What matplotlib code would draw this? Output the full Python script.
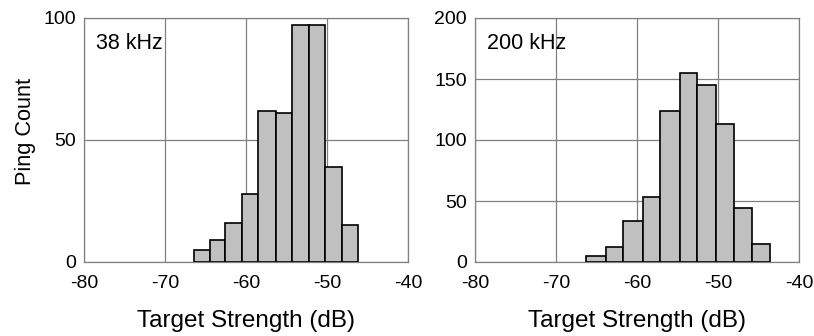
import matplotlib
matplotlib.use("Agg")
import matplotlib.pyplot as plt
import numpy as np

plt.rcParams['font.family'] = ['Liberation Sans', 'DejaVu Sans']
plt.rcParams['axes.unicode_minus'] = False

# 38 kHz histogram
edges_38 = [-66.42, -64.44, -62.59, -60.50, -58.48, -56.34, -54.36, -52.26, -50.29, -48.15, -46.21]
counts_38 = [5, 9, 16, 28, 62, 61, 97, 97, 39, 15]

# 200 kHz histogram
edges_200 = [-66.26, -63.83, -61.73, -59.26, -57.16, -54.73, -52.60, -50.30, -48.02, -45.76, -43.62]
counts_200 = [5, 12, 34, 53, 124, 155, 145, 113, 44, 15]

panels = [
    ("38 kHz", edges_38, counts_38, [0, 50, 100]),
    ("200 kHz", edges_200, counts_200, [0, 50, 100, 150, 200]),
]
x_ticks = [-80, -70, -60, -50, -40]

fig = plt.figure(figsize=(8.14, 3.36), dpi=100)
positions = [[84/814, 74/336, 324/814, 244/336], [475/814, 74/336, 324/814, 244/336]]

for i, (label, edges, counts, yticks) in enumerate(panels):
    ax = fig.add_axes(positions[i])
    e = np.array(edges)
    ax.bar(e[:-1], counts, width=np.diff(e), align='edge',
           color='#c0c0c0', edgecolor='black', linewidth=1.2, zorder=3)
    ax.set_xlim(-80, -40)
    ax.set_ylim(yticks[0], yticks[-1])
    ax.set_xticks(x_ticks)
    ax.set_yticks(yticks)
    ax.grid(True, color='#808080', linewidth=0.9, zorder=0)
    for s in ax.spines.values():
        s.set_color('#808080')
        s.set_linewidth(0.9)
    ax.tick_params(length=0, labelsize=14)
    ax.tick_params(axis='x', pad=9)
    ax.tick_params(axis='y', pad=6)
    ax.set_xlabel("Target Strength (dB)", fontsize=17.5, labelpad=13)
    ax.text(0.036, 0.94, label, transform=ax.transAxes, fontsize=15.5,
            ha='left', va='top', zorder=5)
    if i == 0:
        ax.set_ylabel("Ping Count", fontsize=15.7)
        ax.yaxis.set_label_coords(-0.147, 0.535)

fig.savefig("out.png", dpi=100)
